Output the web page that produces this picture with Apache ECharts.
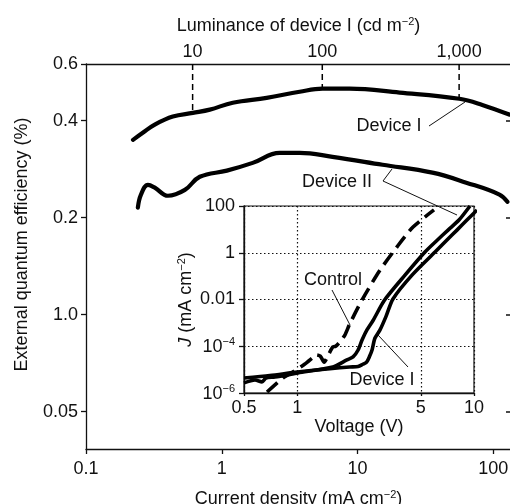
<!DOCTYPE html>
<html><head><meta charset="utf-8">
<script src="https://cdn.jsdelivr.net/npm/echarts@6/dist/echarts.min.js"></script>
<style>html,body{margin:0;padding:0;background:#fff}#c{width:510px;height:504px}</style>
</head><body><div id="c"></div>
<script>
// ---------- data ----------
const currentTicks = [0.1, 1, 10, 100];
const currentTickLabels = ['0.1', '1', '10', '100'];
const currentRange = [0.1, 135];
const eqeTicks = [0.05, 0.1, 0.2, 0.4, 0.6];
const eqeTickLabels = ['0.05', '1.0', '0.2', '0.4', '0.6'];
const eqeRange = [0.0383, 0.6];
const lumTickLabels = ['10', '100', '1,000'];
const lumTickCurrent = [0.61, 5.5, 56];
const lumTickEQE = [0.423, 0.503, 0.468];

const dev1Current = [0.222, 0.262, 0.321, 0.436, 0.612, 0.817, 1.205, 2.14, 3.75, 5.53, 8.73, 20.4, 56.2, 83, 131];
const dev1EQE     = [0.349, 0.367, 0.389, 0.412, 0.423, 0.433, 0.455, 0.471, 0.492, 0.503, 0.503, 0.489, 0.468, 0.448, 0.418];
const dev2Current = [0.241, 0.254, 0.286, 0.321, 0.401, 0.535, 0.689, 1.09, 1.69, 2.67, 3.75, 6.54, 15.3, 35.6, 63.2, 111, 127];
const dev2EQE     = [0.215, 0.236, 0.253, 0.248, 0.234, 0.244, 0.268, 0.280, 0.296, 0.318, 0.318, 0.309, 0.292, 0.276, 0.257, 0.236, 0.224];

const voltTicks = [0.5, 1, 5, 10];
const voltTickLabels = ['0.5', '1', '5', '10'];
const voltRange = [0.5, 10];
const jTicks = [1e-6, 1e-4, 0.01, 1, 100];
const jTickLabels = ['{b|10}{s|\u22126}', '{b|10}{s|\u22124}', '0.01', '1', '100'];
const jRange = [1e-6, 100];

const insetDev1V = [0.5, 0.70, 1.0, 1.53, 1.98, 2.21, 2.35, 2.47, 2.57, 2.65, 2.75, 2.94, 3.18, 3.48, 4.46, 6.02, 7.03, 8.01, 9.12, 10.4];
const insetDev1J = [4.4e-6, 5.6e-6, 7.9e-6, 1.1e-5, 1.3e-5, 1.35e-5, 1.7e-5, 2.1e-5, 3.8e-5, 6.9e-5, 2.2e-4, 5.0e-4, 1.9e-3, 0.0105, 0.11, 1.07, 3.5, 9.3, 25, 68];
const insetDev2V = [0.5, 0.577, 0.632, 0.666, 0.748, 1.01, 1.59, 1.91, 2.07, 2.21, 2.33, 2.48, 2.69, 3.12, 4.07, 5.28, 6.21, 7.13, 8.22, 9.49];
const insetDev2J = [2.7e-6, 3.6e-6, 3.0e-6, 4.4e-6, 4.8e-6, 7.2e-6, 1.3e-5, 2.6e-5, 3.5e-5, 6.9e-5, 1.9e-4, 5.0e-4, 1.3e-3, 9.5e-3, 0.11, 1.07, 3.5, 9.3, 25, 100];
const controlV = [0.675, 0.830, 0.944, 1.10, 1.22, 1.28, 1.35, 1.42, 1.49, 1.59, 1.65, 1.74, 1.86, 1.98, 2.35, 2.94, 3.67, 4.52, 5.94];
const controlJ = [1.1e-6, 4.4e-6, 7.9e-6, 1.7e-5, 3.2e-5, 4.3e-5, 3.8e-5, 2.1e-5, 3.8e-5, 9.3e-5, 1.0e-4, 1.5e-4, 3.0e-4, 8.9e-4, 0.011, 0.18, 1.8, 12.6, 68];

// ---------- helpers ----------
const L10 = Math.log10, L2 = Math.log2;
const FONT = "'Liberation Sans', Arial, Helvetica, sans-serif";
const INK = '#111';
function fmt(ticksT, labels) {
  return function (v) {
    for (let i = 0; i < ticksT.length; i++) if (Math.abs(ticksT[i] - v) < 1e-6) return labels[i];
    return '';
  };
}
const supRich = {
  b: { fontSize: 18, fontFamily: FONT, color: INK, lineHeight: 20, verticalAlign: 'bottom' },
  s: { fontSize: 11, verticalAlign: 'top', lineHeight: 11, fontFamily: FONT, color: INK },
  i: { fontStyle: 'italic', fontSize: 18, fontFamily: FONT, color: INK, lineHeight: 20 }
};

const xT = currentTicks.map(L10);
const yT = eqeTicks.map(L2);
const lumT = lumTickCurrent.map(L10);
const vT = voltTicks.map(L10);
const jT = jTicks.map(L10);

const axisLineStyle = { color: INK, width: 1.3 };
const labelStyle = { fontFamily: FONT, fontSize: 18, color: INK };

const option = {
  animation: false,
  backgroundColor: '#fff',
  textStyle: { fontFamily: FONT, color: INK },
  grid: [
    { left: 86, top: 64, right: -1, bottom: 55, containLabel: false, outerBoundsMode: 'none' },
    { left: 244, top: 206, right: 36, bottom: 111, containLabel: false, outerBoundsMode: 'none',
      show: true, backgroundColor: '#fff', borderColor: INK, borderWidth: 1.2 }
  ],
  xAxis: [
    { type: 'value', gridIndex: 0, position: 'bottom', min: L10(currentRange[0]), max: L10(currentRange[1]),
      axisLine: { show: true, onZero: false, lineStyle: axisLineStyle },
      axisTick: { show: true, inside: false, length: 5, customValues: xT, lineStyle: axisLineStyle },
      axisLabel: Object.assign({ customValues: xT, formatter: fmt(xT, currentTickLabels), margin: 11 }, labelStyle),
      splitLine: { show: false },
      name: 'Current density (mA cm{s|\u22122})', nameLocation: 'middle', nameGap: 40,
      nameTextStyle: { fontFamily: FONT, fontSize: 18, color: INK, lineHeight: 20, rich: supRich } },
    { type: 'value', gridIndex: 0, position: 'top', min: L10(currentRange[0]), max: L10(currentRange[1]),
      axisLine: { show: true, onZero: false, lineStyle: axisLineStyle },
      axisTick: { show: false },
      axisLabel: Object.assign({ customValues: lumT, formatter: fmt(lumT, lumTickLabels), margin: 3 }, labelStyle),
      splitLine: { show: false },
      name: 'Luminance of device I (cd m{s|\u22122})', nameLocation: 'middle', nameGap: 28,
      nameTextStyle: { fontFamily: FONT, fontSize: 18, color: INK, lineHeight: 20, rich: supRich } },
    { type: 'value', gridIndex: 1, position: 'bottom', min: L10(voltRange[0]), max: L10(voltRange[1]),
      axisLine: { show: true, onZero: false, lineStyle: axisLineStyle },
      axisTick: { show: true, length: 3, customValues: vT, lineStyle: axisLineStyle },
      axisLabel: Object.assign({ customValues: vT, formatter: fmt(vT, voltTickLabels), margin: 6 }, labelStyle),
      splitLine: { show: true, lineStyle: { color: INK, width: 1.2, type: [1.5, 2.5] } },
      name: 'Voltage (V)', nameLocation: 'middle', nameGap: 25,
      nameTextStyle: { fontFamily: FONT, fontSize: 18, color: INK } }
  ],
  yAxis: [
    { type: 'value', gridIndex: 0, position: 'left', min: L2(eqeRange[0]), max: L2(eqeRange[1]),
      axisLine: { show: true, onZero: false, lineStyle: axisLineStyle },
      axisTick: { show: true, length: 5, customValues: yT, lineStyle: axisLineStyle },
      axisLabel: Object.assign({ customValues: yT, formatter: fmt(yT, eqeTickLabels), margin: 8 }, labelStyle),
      splitLine: { show: false },
      name: 'External quantum efficiency (%)', nameLocation: 'middle', nameGap: 55,
      nameTextStyle: { fontFamily: FONT, fontSize: 18, color: INK, padding: [0, 0, 0, 24] } },
    { type: 'value', gridIndex: 0, position: 'right', min: L2(eqeRange[0]), max: L2(eqeRange[1]),
      axisLine: { show: false, onZero: false },
      axisTick: { show: true, inside: true, length: 5, customValues: yT.slice(0, 4), lineStyle: { color: INK, width: 1.5 } },
      axisLabel: { show: false },
      splitLine: { show: false } },
    { type: 'value', gridIndex: 1, position: 'left', min: L10(jRange[0]), max: L10(jRange[1]),
      axisLine: { show: true, onZero: false, lineStyle: axisLineStyle },
      axisTick: { show: true, length: 5, customValues: jT, lineStyle: axisLineStyle },
      axisLabel: Object.assign({ customValues: jT, formatter: fmt(jT, jTickLabels), margin: 9, rich: supRich }, labelStyle),
      splitLine: { show: true, lineStyle: { color: INK, width: 1.2, type: [1.5, 2.5] } },
      name: '{i|J} (mA cm{s|\u22122})', nameLocation: 'middle', nameGap: 48,
      nameTextStyle: { fontFamily: FONT, fontSize: 18, color: INK, lineHeight: 20, rich: supRich } }
  ],
  series: []
};

const thick = { color: '#000', width: 4.2, cap: 'round', join: 'round' };
option.series.push({
  type: 'line', name: 'Device I', xAxisIndex: 0, yAxisIndex: 0, showSymbol: false, smooth: 0.4,
  data: dev1Current.map((c, i) => [L10(c), L2(dev1EQE[i])]), lineStyle: thick, z: 4
});
option.series.push({
  type: 'line', name: 'Device II', xAxisIndex: 0, yAxisIndex: 0, showSymbol: false, smooth: 0.4,
  data: dev2Current.map((c, i) => [L10(c), L2(dev2EQE[i])]), lineStyle: thick, z: 4
});
lumTickCurrent.forEach((c, i) => {
  option.series.push({
    type: 'line', xAxisIndex: 0, yAxisIndex: 0, showSymbol: false, silent: true,
    data: [[L10(c), L2(eqeRange[1])], [L10(c), L2(lumTickEQE[i])]],
    lineStyle: { color: '#000', width: 1.5, type: [6, 4] }, z: 3
  });
});
const insetStyle = { color: '#000', width: 3.6, join: 'round' };
option.series.push({
  type: 'line', name: 'Device I (J-V)', xAxisIndex: 2, yAxisIndex: 2, showSymbol: false, smooth: 0.25,
  data: insetDev1V.map((v, i) => [L10(v), L10(insetDev1J[i])]), lineStyle: insetStyle, z: 6
});
option.series.push({
  type: 'line', name: 'Device II (J-V)', xAxisIndex: 2, yAxisIndex: 2, showSymbol: false, smooth: 0.25,
  data: insetDev2V.map((v, i) => [L10(v), L10(insetDev2J[i])]), lineStyle: insetStyle, z: 6
});
option.series.push({
  type: 'line', name: 'Control', xAxisIndex: 2, yAxisIndex: 2, showSymbol: false, smooth: 0.25,
  data: controlV.map((v, i) => [L10(v), L10(controlJ[i])]),
  lineStyle: { color: '#000', width: 3.6, type: [14, 7] }, z: 6
});

const txt = (x, y, s) => ({ type: 'text', x: x, y: y, z: 20,
  style: { text: s, fontFamily: FONT, fontSize: 18, fill: INK, align: 'center', verticalAlign: 'middle' } });
const seg = (pts) => ({ type: 'polyline', z: 20, shape: { points: pts }, style: { stroke: INK, lineWidth: 1, fill: null } });
option.graphic = [
  txt(389, 126, 'Device I'),
  seg([[429, 126], [465, 102]]),
  txt(337, 182, 'Device II'),
  seg([[392, 169], [383, 181], [457, 215]]),
  txt(333, 280, 'Control'),
  seg([[332, 290], [350, 325]]),
  txt(382, 380, 'Device I'),
  seg([[408, 367], [378, 335]])
];

const chart = echarts.init(document.getElementById('c'), null, { renderer: 'canvas' });
chart.setOption(option);
</script>
</body></html>
